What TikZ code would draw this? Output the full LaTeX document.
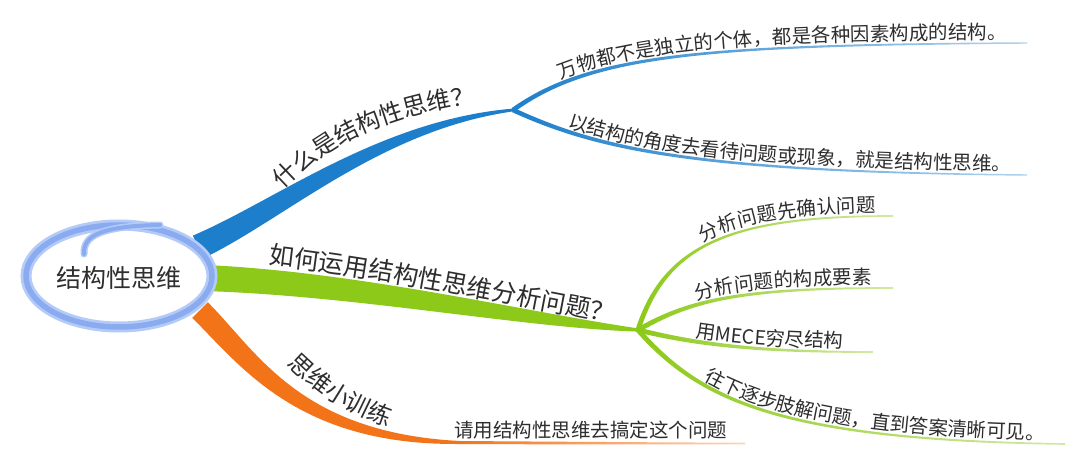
\documentclass[tikz,border=0pt]{standalone}
\usepackage{fontspec}
\setmainfont{Noto Sans CJK SC}
\usetikzlibrary{calc,decorations.text}
\definecolor{txt}{HTML}{2E2E2E}
\definecolor{bblue}{HTML}{1D7FCB}
\definecolor{bgreen}{HTML}{8CC919}
\definecolor{borange}{HTML}{F37318}
\definecolor{ring}{HTML}{8AABF0}
\definecolor{ringlight}{HTML}{B5CBF7}
\newcommand\subfont{\fontsize{19.5pt}{19.5pt}\selectfont}
\newcommand\ttlfont{\fontsize{24pt}{24pt}\selectfont}
\newcommand\bigttlfont{\fontsize{25pt}{25pt}\selectfont}
% tapered band: P0 P1 P2 P3 half-widths w0 wa wb w1, style
\newcommand\mmtaper[9]{%
  \path[#9] ($(#1)!#5!90:(#2)$) .. controls ($(#2)!#6!-90:(#1)$) and ($(#3)!#7!90:(#4)$) .. ($(#4)!#8!-90:(#3)$)
    -- ($(#4)!#8!90:(#3)$) .. controls ($(#3)!#7!-90:(#4)$) and ($(#2)!#6!90:(#1)$) .. ($(#1)!#5!-90:(#2)$) -- cycle;}
\tikzset{
  alongtext/.style n args={4}{decorate, decoration={text along path, text color=txt,
     raise=#3, text align={left indent=#4}, text={|#1|#2}}},
}
\begin{document}
\begin{tikzpicture}[x=1pt,y=-1pt]
\useasboundingbox (0,0) rectangle (1080,465);
\fill[white] (0,0) rectangle (1080,465);
% junctions and ends
\coordinate (jb) at (513,110);
\coordinate (jg) at (638,330);
\coordinate (eb1) at (1027,43);
\coordinate (eb2) at (1027,175);
\coordinate (eg1) at (893,216);
\coordinate (eg2) at (893,288);
\coordinate (eg3) at (873,352);
\coordinate (eg4) at (1065,444);
\coordinate (jo) at (462,442.5);
\coordinate (eo) at (745,443.5);
% main bands
\mmtaper{198,247}{280,210}{380,125}{jb}{12.5pt}{10.5pt}{5pt}{1.4pt}{fill=bblue}
\mmtaper{205,278}{360,284}{525,320}{jg}{13pt}{12pt}{8pt}{1.6pt}{fill=bgreen}
\mmtaper{200,310}{250,360}{300,440}{jo}{11pt}{11pt}{6.5pt}{1.4pt}{fill=borange}
% sub branches
\mmtaper{jb}{590,55}{700,45}{eb1}{2.3pt}{1.9pt}{1.2pt}{0.7pt}{left color=bblue, middle color=bblue, right color=bblue!35}
\mmtaper{jb}{600,150}{700,172}{eb2}{2.3pt}{1.9pt}{1.2pt}{0.7pt}{left color=bblue, middle color=bblue, right color=bblue!35}
\mmtaper{jg}{665,245}{730,216}{eg1}{2.5pt}{2.1pt}{1.3pt}{0.8pt}{left color=bgreen, middle color=bgreen, right color=bgreen!40}
\mmtaper{jg}{690,300}{740,288}{eg2}{2.5pt}{2.1pt}{1.3pt}{0.8pt}{left color=bgreen, middle color=bgreen, right color=bgreen!40}
\mmtaper{jg}{700,345}{760,352}{eg3}{2.5pt}{2.1pt}{1.3pt}{0.8pt}{left color=bgreen, middle color=bgreen, right color=bgreen!40}
\mmtaper{jg}{700,400}{780,440}{eg4}{2.5pt}{2.1pt}{1.3pt}{0.8pt}{left color=bgreen, middle color=bgreen, right color=bgreen!40}
\mmtaper{455,442.5}{550,443}{650,443.5}{eo}{1.5pt}{1.4pt}{1.1pt}{0.8pt}{left color=borange, middle color=borange!90, right color=borange!30}
% central topic
\draw[ringlight, line width=11pt, fill=white] (119,276) ellipse [x radius=93, y radius=51];
\draw[ring, line width=5.5pt] (119,276) ellipse [x radius=93, y radius=51];
\draw[ringlight, line width=7pt, line cap=round] (84,254) .. controls (83,236) and (100,226) .. (160,225);
\draw[ring, line width=4pt, line cap=round] (84,254) .. controls (83,236) and (100,226) .. (160,225);
\node[font=\bigttlfont, text=txt, inner sep=0] (center) at (119,278) {结构性思维};
% branch titles
\path[alongtext={\ttlfont}{什么是结构性思维？}{0pt}{0pt}] (283,190) .. controls (322,150) and (378,113) .. (498,101);
\path[alongtext={\bigttlfont}{如何运用结构性思维分析问题？}{2pt}{0pt}] (268,266) .. controls (380,279) and (500,304) .. (jg);
\path[alongtext={\ttlfont}{思维小训练}{0pt}{0pt}] (287,364) .. controls (317,394) and (352,418) .. (405,431);
% sub labels
\path[alongtext={\subfont}{万物都不是独立的个体，都是各种因素构成的结构。}{4pt}{56pt}] (jb) .. controls (590,55) and (700,45) .. (eb1);
\path[alongtext={\subfont}{以结构的角度去看待问题或现象，就是结构性思维。}{4pt}{57pt}] (jb) .. controls (600,150) and (700,172) .. (eb2);
\path[alongtext={\subfont}{分析问题先确认问题}{4pt}{110pt}] (jg) .. controls (665,245) and (730,216) .. (eg1);
\path[alongtext={\subfont}{分析问题的构成要素}{4pt}{65pt}] (jg) .. controls (690,300) and (740,288) .. (eg2);
\path[alongtext={\subfont}{用MECE穷尽结构}{4pt}{58pt}] (jg) .. controls (700,345) and (760,352) .. (eg3);
\path[alongtext={\subfont}{往下逐步肢解问题，直到答案清晰可见。}{4pt}{84pt}] (jg) .. controls (700,400) and (780,440) .. (eg4);
\node[font=\subfont, text=txt, inner sep=0, anchor=base west] (olab) at (454,437) {请用结构性思维去搞定这个问题};
\end{tikzpicture}
\end{document}
